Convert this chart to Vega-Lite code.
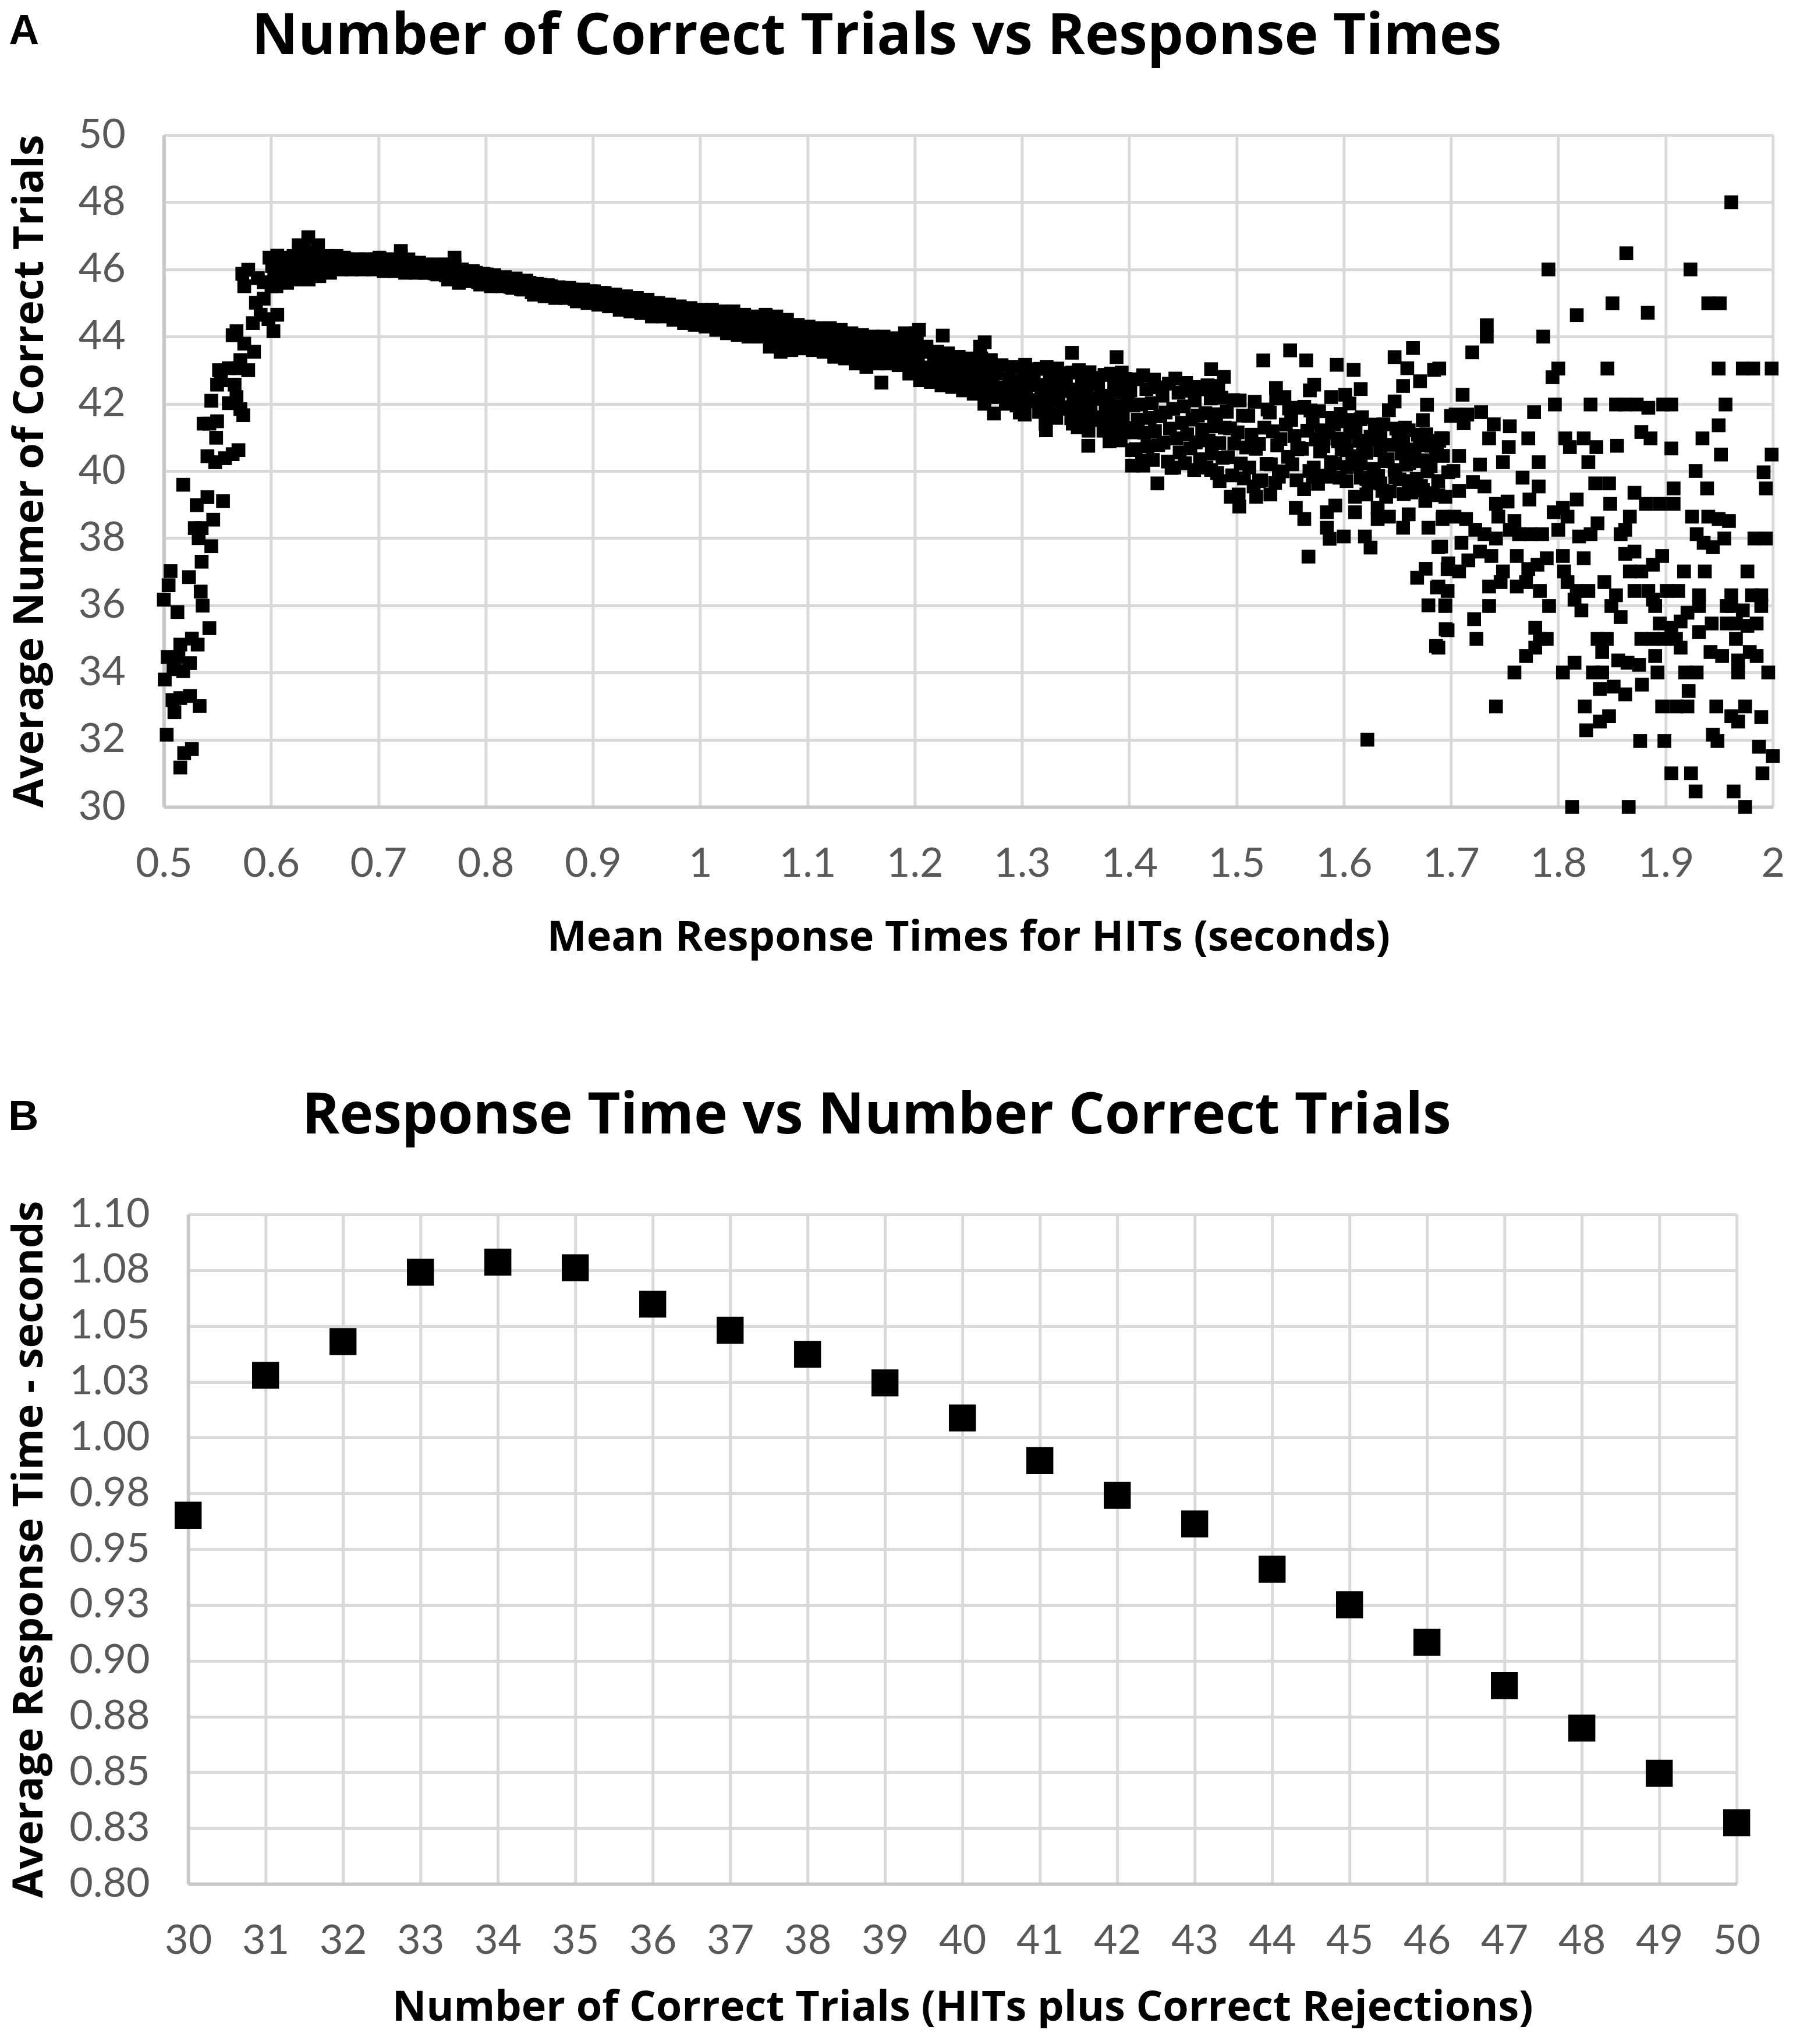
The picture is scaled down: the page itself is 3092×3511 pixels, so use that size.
{
  "$schema": "https://vega.github.io/schema/vega-lite/v6.json",
  "description": "Correct trials vs response times (A) and response time vs number correct (B)",
  "background": "white",
  "padding": {"left": 14, "top": 14, "right": 0, "bottom": 0},
  "spacing": 222,
  "center": true,
  "config": {
    "view": {"stroke": null},
    "axis": {
      "labelFont": "Lato",
      "labelFontSize": 70,
      "labelColor": "#595959",
      "labelFlush": false,
      "labelOverlap": false,
      "ticks": false,
      "gridColor": "#d9d9d9",
      "gridWidth": 5,
      "domainColor": "#c8c8c8",
      "domainWidth": 6,
      "titleFont": "Open Sans",
      "titleFontWeight": "bold",
      "titleColor": "black"
    }
  },
  "datasets": {
    "scatter": [
      {"rt":0.5181,"n":39.59},{"rt":0.5307,"n":38.98},{"rt":0.5407,"n":39.22},{"rt":0.5552,"n":39.1},{"rt":0.5461,"n":38.55},{"rt":0.5289,"n":38.3},{"rt":0.5353,"n":38.3},{"rt":0.5325,"n":38.0},{"rt":0.5443,"n":37.76},{"rt":0.5353,"n":37.3},{"rt":0.5063,"n":37.02},{"rt":0.5045,"n":36.6},{"rt":0.5235,"n":36.84},{"rt":0.5,"n":36.17},{"rt":0.5344,"n":36.41},{"rt":0.5362,"n":35.99},{"rt":0.5127,"n":35.8},{"rt":0.5425,"n":35.32},{"rt":0.5154,"n":34.83},{"rt":0.5262,"n":35.01},{"rt":0.5316,"n":34.83},{"rt":0.5036,"n":34.46},{"rt":0.5136,"n":34.46},{"rt":0.5244,"n":34.28},{"rt":0.5009,"n":33.79},{"rt":0.509,"n":34.1},{"rt":0.5181,"n":34.04},{"rt":0.5081,"n":33.18},{"rt":0.5154,"n":33.24},{"rt":0.5244,"n":33.3},{"rt":0.5334,"n":33.0},{"rt":0.5099,"n":32.82},{"rt":0.5027,"n":32.15},{"rt":0.5262,"n":31.72},{"rt":0.519,"n":31.6},{"rt":0.5154,"n":31.17},
      {"rt":0.5497,"n":41.48},{"rt":0.5425,"n":41.41},{"rt":0.5371,"n":41.41},{"rt":0.5488,"n":40.99},{"rt":0.5407,"n":40.44},{"rt":0.5479,"n":40.26},{"rt":0.557,"n":40.38},{"rt":0.5642,"n":40.5},{"rt":0.5696,"n":40.62},{"rt":0.5443,"n":42.09},{"rt":0.5497,"n":42.57},{"rt":0.5533,"n":42.7},{"rt":0.5606,"n":42.02},{"rt":0.5678,"n":42.2},{"rt":0.5714,"n":41.84},{"rt":0.5741,"n":41.66},{"rt":0.5515,"n":43.0},{"rt":0.5606,"n":43.06},{"rt":0.5696,"n":43.06},{"rt":0.5787,"n":43.0},{"rt":0.566,"n":42.57},{"rt":0.5642,"n":44.04},{"rt":0.5678,"n":44.16},{"rt":0.575,"n":43.79},{"rt":0.5841,"n":43.55},{"rt":0.5714,"n":43.3},{"rt":0.583,"n":44.4},{"rt":0.5903,"n":44.65},{"rt":0.5976,"n":44.52},{"rt":0.6022,"n":44.16},{"rt":0.6058,"n":44.65},{"rt":0.5859,"n":45.01},{"rt":0.5931,"n":45.13},{"rt":0.575,"n":45.5},{"rt":0.5732,"n":45.87},{"rt":0.5787,"n":45.99},{"rt":0.5877,"n":45.74},{"rt":0.5931,"n":45.62},{"rt":0.5985,"n":46.35},{"rt":0.6058,"n":46.41},{"rt":0.6148,"n":46.35},{"rt":0.6257,"n":46.72},{"rt":0.6347,"n":46.96},{"rt":0.6438,"n":46.72},{"rt":0.6004,"n":45.5},{"rt":0.6148,"n":45.62},{"rt":0.721,"n":46.55},{"rt":0.771,"n":46.35},
      {"rt":0.601,"n":46.1},{"rt":0.605,"n":45.5},{"rt":0.603,"n":45.7},{"rt":0.608,"n":45.95},
      {"rt":0.611,"n":46.3},{"rt":0.615,"n":45.6},{"rt":0.613,"n":45.85},{"rt":0.618,"n":46.1},
      {"rt":0.621,"n":46.4},{"rt":0.625,"n":45.7},{"rt":0.623,"n":45.95},{"rt":0.628,"n":46.2},
      {"rt":0.631,"n":46.6},{"rt":0.635,"n":45.7},{"rt":0.633,"n":46.05},{"rt":0.638,"n":46.3},
      {"rt":0.641,"n":46.5},{"rt":0.645,"n":45.8},{"rt":0.643,"n":46.05},{"rt":0.648,"n":46.3},
      {"rt":0.651,"n":46.4},{"rt":0.655,"n":45.9},{"rt":0.653,"n":46.05},{"rt":0.658,"n":46.3},
      {"rt":0.661,"n":46.4},{"rt":0.665,"n":46.0},{"rt":0.663,"n":46.1},{"rt":0.668,"n":46.35},
      {"rt":0.671,"n":46.3},{"rt":0.675,"n":46.0},{"rt":0.673,"n":46.05},{"rt":0.678,"n":46.3},
      {"rt":0.681,"n":46.3},{"rt":0.685,"n":46.0},{"rt":0.683,"n":46.05},{"rt":0.688,"n":46.3},
      {"rt":0.691,"n":46.3},{"rt":0.695,"n":46.0},{"rt":0.693,"n":46.05},{"rt":0.698,"n":46.3},
      {"rt":0.701,"n":46.35},{"rt":0.705,"n":45.95},{"rt":0.703,"n":46.05},{"rt":0.708,"n":46.3},
      {"rt":0.711,"n":46.3},{"rt":0.715,"n":45.95},{"rt":0.713,"n":46.0},{"rt":0.718,"n":46.27},
      {"rt":0.721,"n":46.4},{"rt":0.725,"n":45.9},{"rt":0.723,"n":46.05},{"rt":0.728,"n":46.3},
      {"rt":0.731,"n":46.2},{"rt":0.735,"n":45.9},{"rt":0.733,"n":45.95},{"rt":0.738,"n":46.2},
      {"rt":0.741,"n":46.1},{"rt":0.745,"n":45.9},{"rt":0.743,"n":45.9},{"rt":0.748,"n":46.15},
      {"rt":0.751,"n":46.1},{"rt":0.755,"n":45.85},{"rt":0.753,"n":45.88},{"rt":0.758,"n":46.13},
      {"rt":0.761,"n":46.15},{"rt":0.765,"n":45.7},{"rt":0.763,"n":45.82},{"rt":0.768,"n":46.07},
      {"rt":0.771,"n":46.1},{"rt":0.775,"n":45.6},{"rt":0.773,"n":45.75},{"rt":0.778,"n":46.0},
      {"rt":0.781,"n":45.95},{"rt":0.785,"n":45.65},{"rt":0.783,"n":45.7},{"rt":0.788,"n":45.95},
      {"rt":0.791,"n":45.9},{"rt":0.795,"n":45.55},{"rt":0.793,"n":45.62},{"rt":0.798,"n":45.87},
      {"rt":0.801,"n":45.85},{"rt":0.805,"n":45.5},{"rt":0.803,"n":45.58},{"rt":0.808,"n":45.83},
      {"rt":0.811,"n":45.75},{"rt":0.815,"n":45.5},{"rt":0.813,"n":45.52},{"rt":0.818,"n":45.77},
      {"rt":0.821,"n":45.7},{"rt":0.825,"n":45.45},{"rt":0.823,"n":45.48},{"rt":0.828,"n":45.73},
      {"rt":0.831,"n":45.65},{"rt":0.835,"n":45.4},{"rt":0.833,"n":45.42},{"rt":0.838,"n":45.67},
      {"rt":0.841,"n":45.6},{"rt":0.845,"n":45.25},{"rt":0.843,"n":45.32},{"rt":0.848,"n":45.57},
      {"rt":0.851,"n":45.55},{"rt":0.855,"n":45.2},{"rt":0.853,"n":45.28},{"rt":0.858,"n":45.53},
      {"rt":0.861,"n":45.5},{"rt":0.865,"n":45.15},{"rt":0.863,"n":45.22},{"rt":0.868,"n":45.47},
      {"rt":0.871,"n":45.45},{"rt":0.875,"n":45.15},{"rt":0.873,"n":45.2},{"rt":0.878,"n":45.45},
      {"rt":0.881,"n":45.4},{"rt":0.885,"n":45.05},{"rt":0.883,"n":45.12},{"rt":0.888,"n":45.37},
      {"rt":0.891,"n":45.4},{"rt":0.895,"n":45.0},{"rt":0.893,"n":45.1},{"rt":0.898,"n":45.35},
      {"rt":0.901,"n":45.35},{"rt":0.905,"n":44.95},{"rt":0.903,"n":45.05},{"rt":0.908,"n":45.3},
      {"rt":0.911,"n":45.3},{"rt":0.915,"n":44.9},{"rt":0.913,"n":45.0},{"rt":0.918,"n":45.25},
      {"rt":0.921,"n":45.25},{"rt":0.925,"n":44.8},{"rt":0.923,"n":44.92},{"rt":0.928,"n":45.17},
      {"rt":0.931,"n":45.2},{"rt":0.935,"n":44.75},{"rt":0.933,"n":44.88},{"rt":0.938,"n":45.13},
      {"rt":0.941,"n":45.15},{"rt":0.945,"n":44.7},{"rt":0.943,"n":44.82},{"rt":0.948,"n":45.07},
      {"rt":0.951,"n":45.1},{"rt":0.955,"n":44.6},{"rt":0.953,"n":44.75},{"rt":0.958,"n":45.0},
      {"rt":0.961,"n":45.0},{"rt":0.965,"n":44.6},{"rt":0.963,"n":44.7},{"rt":0.968,"n":44.95},
      {"rt":0.971,"n":44.95},{"rt":0.975,"n":44.5},{"rt":0.973,"n":44.62},{"rt":0.978,"n":44.87},
      {"rt":0.981,"n":44.9},{"rt":0.985,"n":44.4},{"rt":0.983,"n":44.55},{"rt":0.988,"n":44.8},
      {"rt":0.991,"n":44.85},{"rt":0.995,"n":44.35},{"rt":0.993,"n":44.5},{"rt":0.998,"n":44.75},
      {"rt":1.001,"n":44.8},{"rt":1.005,"n":44.3},{"rt":1.003,"n":44.45},{"rt":1.008,"n":44.7},
      {"rt":1.011,"n":44.8},{"rt":1.015,"n":44.2},{"rt":1.013,"n":44.4},{"rt":1.018,"n":44.65},
      {"rt":1.021,"n":44.75},{"rt":1.025,"n":44.1},{"rt":1.023,"n":44.32},{"rt":1.028,"n":44.57},
      {"rt":1.031,"n":44.75},{"rt":1.035,"n":44.05},{"rt":1.033,"n":44.3},{"rt":1.038,"n":44.55},
      {"rt":1.041,"n":44.65},{"rt":1.045,"n":44.0},{"rt":1.043,"n":44.22},{"rt":1.048,"n":44.47},
      {"rt":1.051,"n":44.6},{"rt":1.055,"n":44.0},{"rt":1.053,"n":44.2},{"rt":1.058,"n":44.45},
      {"rt":1.061,"n":44.65},{"rt":1.065,"n":43.7},{"rt":1.063,"n":44.08},{"rt":1.068,"n":44.33},{"rt":1.066,"n":43.95},
      {"rt":1.071,"n":44.6},{"rt":1.075,"n":43.55},{"rt":1.073,"n":43.98},{"rt":1.078,"n":44.23},{"rt":1.076,"n":43.8},
      {"rt":1.081,"n":44.5},{"rt":1.085,"n":43.6},{"rt":1.083,"n":43.95},{"rt":1.088,"n":44.2},{"rt":1.086,"n":43.8},
      {"rt":1.091,"n":44.35},{"rt":1.095,"n":43.65},{"rt":1.093,"n":43.9},{"rt":1.098,"n":44.15},
      {"rt":1.101,"n":44.3},{"rt":1.105,"n":43.6},{"rt":1.103,"n":43.85},{"rt":1.108,"n":44.1},
      {"rt":1.111,"n":44.25},{"rt":1.115,"n":43.55},{"rt":1.113,"n":43.8},{"rt":1.118,"n":44.05},
      {"rt":1.121,"n":44.25},{"rt":1.125,"n":43.4},{"rt":1.123,"n":43.72},{"rt":1.128,"n":43.97},{"rt":1.126,"n":43.6},
      {"rt":1.131,"n":44.2},{"rt":1.135,"n":43.35},{"rt":1.133,"n":43.68},{"rt":1.138,"n":43.93},{"rt":1.136,"n":43.55},
      {"rt":1.141,"n":44.1},{"rt":1.145,"n":43.2},{"rt":1.143,"n":43.55},{"rt":1.148,"n":43.8},{"rt":1.146,"n":43.4},
      {"rt":1.151,"n":44.05},{"rt":1.155,"n":43.1},{"rt":1.153,"n":43.48},{"rt":1.158,"n":43.73},{"rt":1.156,"n":43.3},
      {"rt":1.161,"n":44.0},{"rt":1.165,"n":43.2},{"rt":1.163,"n":43.5},{"rt":1.168,"n":43.75},{"rt":1.166,"n":43.35},
      {"rt":1.171,"n":44.0},{"rt":1.175,"n":43.2},{"rt":1.173,"n":43.5},{"rt":1.178,"n":43.75},{"rt":1.176,"n":43.35},
      {"rt":1.181,"n":43.95},{"rt":1.185,"n":43.15},{"rt":1.183,"n":43.45},{"rt":1.188,"n":43.7},{"rt":1.186,"n":43.3},
      {"rt":1.191,"n":44.1},{"rt":1.195,"n":42.9},{"rt":1.193,"n":43.4},{"rt":1.198,"n":43.65},{"rt":1.196,"n":43.15},{"rt":1.192,"n":43.85},
      {"rt":1.201,"n":44.1},{"rt":1.205,"n":42.7},{"rt":1.203,"n":43.3},{"rt":1.208,"n":43.55},{"rt":1.206,"n":42.95},{"rt":1.202,"n":43.8},
      {"rt":1.211,"n":43.7},{"rt":1.215,"n":42.65},{"rt":1.213,"n":43.08},{"rt":1.218,"n":43.33},{"rt":1.216,"n":42.85},
      {"rt":1.221,"n":43.55},{"rt":1.225,"n":42.55},{"rt":1.223,"n":42.95},{"rt":1.228,"n":43.2},{"rt":1.226,"n":42.75},
      {"rt":1.231,"n":43.5},{"rt":1.235,"n":42.5},{"rt":1.233,"n":42.9},{"rt":1.238,"n":43.15},{"rt":1.236,"n":42.7},
      {"rt":1.241,"n":43.4},{"rt":1.245,"n":42.4},{"rt":1.243,"n":42.8},{"rt":1.248,"n":43.05},{"rt":1.246,"n":42.6},
      {"rt":1.251,"n":43.35},{"rt":1.255,"n":42.3},{"rt":1.253,"n":42.72},{"rt":1.258,"n":42.97},{"rt":1.256,"n":42.5},
      {"rt":1.261,"n":43.7},{"rt":1.265,"n":42.0},{"rt":1.263,"n":42.75},{"rt":1.268,"n":43.0},{"rt":1.266,"n":42.35},{"rt":1.262,"n":43.35},
      {"rt":1.271,"n":43.3},{"rt":1.275,"n":42.2},{"rt":1.273,"n":42.65},{"rt":1.278,"n":42.9},{"rt":1.276,"n":42.4},
      {"rt":1.281,"n":43.15},{"rt":1.285,"n":42.0},{"rt":1.283,"n":42.48},{"rt":1.288,"n":42.73},{"rt":1.286,"n":42.25},
      {"rt":1.291,"n":43.1},{"rt":1.295,"n":41.95},{"rt":1.293,"n":42.42},{"rt":1.298,"n":42.67},{"rt":1.296,"n":42.2},
      {"rt":1.302,"n":41.87},{"rt":1.307,"n":42.11},{"rt":1.304,"n":42.33},{"rt":1.309,"n":42.57},{"rt":1.301,"n":42.78},{"rt":1.306,"n":43.03},{"rt":1.303,"n":43.16},
      {"rt":1.316,"n":41.76},{"rt":1.312,"n":42.07},{"rt":1.318,"n":42.3},{"rt":1.314,"n":42.56},{"rt":1.311,"n":42.84},{"rt":1.317,"n":43.04},
      {"rt":1.322,"n":41.4},{"rt":1.327,"n":41.69},{"rt":1.324,"n":41.96},{"rt":1.329,"n":42.25},{"rt":1.321,"n":42.52},{"rt":1.326,"n":42.83},{"rt":1.323,"n":43.1},
      {"rt":1.332,"n":41.58},{"rt":1.337,"n":41.85},{"rt":1.334,"n":42.11},{"rt":1.339,"n":42.38},{"rt":1.331,"n":42.62},{"rt":1.336,"n":42.91},{"rt":1.333,"n":43.05},
      {"rt":1.346,"n":41.57},{"rt":1.342,"n":41.9},{"rt":1.348,"n":42.14},{"rt":1.344,"n":42.42},{"rt":1.341,"n":42.72},{"rt":1.347,"n":42.93},
      {"rt":1.352,"n":41.3},{"rt":1.357,"n":41.59},{"rt":1.354,"n":41.86},{"rt":1.359,"n":42.15},{"rt":1.351,"n":42.42},{"rt":1.356,"n":42.73},{"rt":1.353,"n":43.0},
      {"rt":1.362,"n":41.2},{"rt":1.367,"n":41.52},{"rt":1.364,"n":41.82},{"rt":1.369,"n":42.15},{"rt":1.361,"n":42.43},{"rt":1.366,"n":42.77},{"rt":1.363,"n":42.94},
      {"rt":1.376,"n":41.2},{"rt":1.372,"n":41.6},{"rt":1.378,"n":41.9},{"rt":1.374,"n":42.24},{"rt":1.371,"n":42.6},{"rt":1.377,"n":42.86},
      {"rt":1.382,"n":40.95},{"rt":1.387,"n":41.28},{"rt":1.384,"n":41.59},{"rt":1.389,"n":41.93},{"rt":1.381,"n":42.24},{"rt":1.386,"n":42.59},{"rt":1.383,"n":42.9},
      {"rt":1.392,"n":40.91},{"rt":1.397,"n":41.28},{"rt":1.394,"n":41.64},{"rt":1.399,"n":42.01},{"rt":1.391,"n":42.34},{"rt":1.396,"n":42.74},{"rt":1.393,"n":42.93},
      {"rt":1.406,"n":40.65},{"rt":1.402,"n":41.15},{"rt":1.408,"n":41.53},{"rt":1.404,"n":41.95},{"rt":1.401,"n":42.4},{"rt":1.407,"n":42.73},
      {"rt":1.412,"n":40.3},{"rt":1.417,"n":40.73},{"rt":1.414,"n":41.14},{"rt":1.419,"n":41.58},{"rt":1.411,"n":41.98},{"rt":1.416,"n":42.44},{"rt":1.413,"n":42.85},
      {"rt":1.422,"n":40.33},{"rt":1.427,"n":40.77},{"rt":1.424,"n":41.19},{"rt":1.429,"n":41.63},{"rt":1.421,"n":42.02},{"rt":1.426,"n":42.49},{"rt":1.423,"n":42.72},
      {"rt":1.436,"n":40.28},{"rt":1.432,"n":40.84},{"rt":1.438,"n":41.26},{"rt":1.434,"n":41.74},{"rt":1.431,"n":42.24},{"rt":1.437,"n":42.6},
      {"rt":1.442,"n":40.1},{"rt":1.447,"n":40.55},{"rt":1.444,"n":40.97},{"rt":1.449,"n":41.43},{"rt":1.441,"n":41.85},{"rt":1.446,"n":42.33},{"rt":1.443,"n":42.75},
      {"rt":1.452,"n":40.23},{"rt":1.457,"n":40.67},{"rt":1.454,"n":41.09},{"rt":1.459,"n":41.53},{"rt":1.451,"n":41.92},{"rt":1.456,"n":42.39},{"rt":1.453,"n":42.62},
      {"rt":1.466,"n":40.35},{"rt":1.462,"n":40.85},{"rt":1.468,"n":41.23},{"rt":1.464,"n":41.65},{"rt":1.461,"n":42.1},{"rt":1.467,"n":42.43},
      {"rt":1.472,"n":40.1},{"rt":1.477,"n":40.52},{"rt":1.474,"n":40.91},{"rt":1.479,"n":41.33},{"rt":1.471,"n":41.72},{"rt":1.476,"n":42.16},{"rt":1.473,"n":42.55},
      {"rt":1.482,"n":39.94},{"rt":1.487,"n":40.39},{"rt":1.484,"n":40.83},{"rt":1.489,"n":41.29},{"rt":1.481,"n":41.69},{"rt":1.486,"n":42.18},{"rt":1.483,"n":42.42},
      {"rt":1.496,"n":39.87},{"rt":1.492,"n":40.41},{"rt":1.498,"n":40.82},{"rt":1.494,"n":41.27},{"rt":1.491,"n":41.76},{"rt":1.497,"n":42.11},
      {"rt":1.502,"n":39.3},{"rt":1.507,"n":39.78},{"rt":1.504,"n":40.22},{"rt":1.509,"n":40.7},{"rt":1.501,"n":41.15},{"rt":1.506,"n":41.65},{"rt":1.503,"n":42.1},
      {"rt":1.516,"n":39.54},{"rt":1.512,"n":40.1},{"rt":1.518,"n":40.66},{"rt":1.514,"n":41.08},{"rt":1.511,"n":41.64},{"rt":1.517,"n":42.06},
      {"rt":1.523,"n":39.72},{"rt":1.528,"n":40.21},{"rt":1.521,"n":40.8},{"rt":1.526,"n":41.29},{"rt":1.529,"n":41.83},
      {"rt":1.536,"n":39.64},{"rt":1.532,"n":40.2},{"rt":1.538,"n":40.76},{"rt":1.534,"n":41.18},{"rt":1.531,"n":41.74},{"rt":1.537,"n":42.16},
      {"rt":1.543,"n":39.99},{"rt":1.548,"n":40.42},{"rt":1.541,"n":40.95},{"rt":1.546,"n":41.38},{"rt":1.549,"n":41.86},
      {"rt":1.556,"n":39.72},{"rt":1.552,"n":40.2},{"rt":1.558,"n":40.68},{"rt":1.554,"n":41.04},{"rt":1.551,"n":41.52},{"rt":1.557,"n":41.88},
      {"rt":1.563,"n":39.46},{"rt":1.568,"n":40.0},{"rt":1.561,"n":40.66},{"rt":1.566,"n":41.2},{"rt":1.569,"n":41.8},
      {"rt":1.576,"n":39.62},{"rt":1.572,"n":40.1},{"rt":1.578,"n":40.58},{"rt":1.574,"n":40.94},{"rt":1.571,"n":41.42},{"rt":1.577,"n":41.78},
      {"rt":1.583,"n":39.86},{"rt":1.588,"n":40.26},{"rt":1.581,"n":40.74},{"rt":1.586,"n":41.14},{"rt":1.589,"n":41.58},
      {"rt":1.596,"n":39.8},{"rt":1.592,"n":40.22},{"rt":1.598,"n":40.64},{"rt":1.594,"n":40.96},{"rt":1.591,"n":41.38},{"rt":1.597,"n":41.7},
      {"rt":1.603,"n":40.12},{"rt":1.608,"n":40.44},{"rt":1.601,"n":40.84},{"rt":1.606,"n":41.16},{"rt":1.609,"n":41.52},
      {"rt":1.616,"n":39.8},{"rt":1.612,"n":40.2},{"rt":1.618,"n":40.6},{"rt":1.614,"n":40.9},{"rt":1.611,"n":41.3},{"rt":1.617,"n":41.6},
      {"rt":1.623,"n":39.66},{"rt":1.628,"n":40.06},{"rt":1.621,"n":40.54},{"rt":1.626,"n":40.94},{"rt":1.629,"n":41.38},
      {"rt":1.636,"n":39.41},{"rt":1.632,"n":39.85},{"rt":1.638,"n":40.29},{"rt":1.634,"n":40.62},{"rt":1.631,"n":41.06},{"rt":1.637,"n":41.39},
      {"rt":1.643,"n":39.39},{"rt":1.648,"n":39.82},{"rt":1.641,"n":40.35},{"rt":1.646,"n":40.78},{"rt":1.649,"n":41.26},
      {"rt":1.656,"n":39.31},{"rt":1.652,"n":39.75},{"rt":1.658,"n":40.19},{"rt":1.654,"n":40.52},{"rt":1.651,"n":40.96},{"rt":1.657,"n":41.29},
      {"rt":1.663,"n":39.36},{"rt":1.668,"n":39.76},{"rt":1.661,"n":40.24},{"rt":1.666,"n":40.64},{"rt":1.669,"n":41.08},
      {"rt":1.676,"n":39.11},{"rt":1.672,"n":39.55},{"rt":1.678,"n":39.99},{"rt":1.674,"n":40.32},{"rt":1.671,"n":40.76},{"rt":1.677,"n":41.09},
      {"rt":1.683,"n":39.34},{"rt":1.688,"n":39.7},{"rt":1.681,"n":40.14},{"rt":1.686,"n":40.5},{"rt":1.689,"n":40.9},
      {"rt":1.169,"n":42.63},{"rt":1.2262,"n":44.03},{"rt":1.2653,"n":43.83},{"rt":1.2738,"n":41.71},{"rt":1.298,"n":41.74},{"rt":1.204,"n":44.2},
      {"rt":1.3466,"n":43.52},{"rt":1.3882,"n":43.39},{"rt":1.4763,"n":43.03},{"rt":1.525,"n":43.29},{"rt":1.55,"n":43.59},{"rt":1.565,"n":43.29},{"rt":1.5934,"n":43.16},{"rt":1.6092,"n":43.01},{"rt":1.6474,"n":43.39},{"rt":1.6645,"n":43.66},{"rt":1.6592,"n":43.06},{"rt":1.6842,"n":43.01},{"rt":1.6711,"n":42.67},{"rt":1.6553,"n":42.53},{"rt":1.5724,"n":42.57},{"rt":1.5684,"n":42.4},{"rt":1.5882,"n":42.2},{"rt":1.6013,"n":42.27},{"rt":1.6158,"n":42.44},{"rt":1.6776,"n":41.97},{"rt":1.6474,"n":42.07},{"rt":1.6421,"n":41.81},{"rt":1.6053,"n":42.01},{"rt":1.5632,"n":41.91},{"rt":1.5368,"n":42.47},{"rt":1.5447,"n":42.2},{"rt":1.4882,"n":42.8},{"rt":1.4789,"n":42.53},{"rt":1.4605,"n":42.5},
      {"rt":1.6158,"n":41.54},{"rt":1.5974,"n":41.48},{"rt":1.6737,"n":41.51},{"rt":1.7,"n":41.64},{"rt":1.6908,"n":40.98},{"rt":1.6816,"n":40.75},{"rt":1.6868,"n":40.49},{"rt":1.625,"n":41.02},{"rt":1.6342,"n":41.02},{"rt":1.6605,"n":41.21},{"rt":1.6553,"n":40.88},{"rt":1.5789,"n":41.21},{"rt":1.5566,"n":40.65},{"rt":1.5947,"n":40.88},{"rt":1.6026,"n":40.62},{"rt":1.6158,"n":40.22},{"rt":1.6711,"n":40.29},{"rt":1.6474,"n":40.03},{"rt":1.6974,"n":39.96},{"rt":1.5711,"n":39.83},{"rt":1.5868,"n":39.83},{"rt":1.6026,"n":39.7},{"rt":1.6211,"n":39.76},{"rt":1.6342,"n":39.63},{"rt":1.6605,"n":39.7},{"rt":1.6737,"n":39.43},{"rt":1.6816,"n":39.3},{"rt":1.6947,"n":39.23},{"rt":1.6105,"n":39.23},{"rt":1.6211,"n":39.3},{"rt":1.6395,"n":39.23},{"rt":1.6316,"n":38.9},{"rt":1.5921,"n":38.97},{"rt":1.5842,"n":38.77},{"rt":1.6105,"n":38.77},{"rt":1.6316,"n":38.57},{"rt":1.6421,"n":38.64},{"rt":1.6605,"n":38.71},{"rt":1.5553,"n":38.9},{"rt":1.5632,"n":38.57},{"rt":1.5842,"n":38.31},{"rt":1.5868,"n":37.98},{"rt":1.6,"n":38.05},{"rt":1.6197,"n":38.05},{"rt":1.625,"n":37.72},{"rt":1.6553,"n":38.31},{"rt":1.6789,"n":38.31},{"rt":1.6921,"n":38.57},{"rt":1.6908,"n":37.75},{"rt":1.5671,"n":37.45},{"rt":1.6763,"n":37.09},{"rt":1.6974,"n":37.25},{"rt":1.6684,"n":36.82},{"rt":1.6868,"n":36.53},{"rt":1.6789,"n":36.0},{"rt":1.6947,"n":36.0},{"rt":1.695,"n":35.29},{"rt":1.686,"n":34.79},{"rt":1.622,"n":32.0},
      {"rt":1.3026,"n":41.68},{"rt":1.3224,"n":41.21},{"rt":1.3474,"n":41.41},{"rt":1.3618,"n":40.75},{"rt":1.3816,"n":40.88},{"rt":1.4026,"n":40.62},{"rt":1.4026,"n":40.16},{"rt":1.4132,"n":40.16},{"rt":1.4263,"n":39.63},{"rt":1.4395,"n":40.09},{"rt":1.4605,"n":40.03},{"rt":1.4763,"n":40.03},{"rt":1.4842,"n":39.7},{"rt":1.4947,"n":39.23},{"rt":1.5026,"n":38.94},{"rt":1.5184,"n":39.23},{"rt":1.5316,"n":39.3},{"rt":1.5211,"n":39.7},{"rt":1.5395,"n":39.83},
      {"rt":1.9613,"n":48.0},{"rt":1.8634,"n":46.48},{"rt":1.7908,"n":46.0},{"rt":1.9232,"n":46.0},{"rt":1.8505,"n":44.99},{"rt":1.8172,"n":44.64},{"rt":1.8834,"n":44.71},{"rt":1.9398,"n":44.99},{"rt":1.9505,"n":44.99},{"rt":1.7333,"n":44.34},{"rt":1.7333,"n":44.0},{"rt":1.7198,"n":43.53},{"rt":1.786,"n":44.0},{"rt":1.689,"n":43.05},{"rt":1.8,"n":43.05},{"rt":1.7946,"n":42.79},{"rt":1.8458,"n":43.05},{"rt":1.9495,"n":43.05},{"rt":1.972,"n":43.05},{"rt":1.9817,"n":43.05},{"rt":1.9989,"n":43.05},
      {"rt":1.7108,"n":42.27},{"rt":1.7043,"n":41.68},{"rt":1.7151,"n":41.68},{"rt":1.7118,"n":41.42},{"rt":1.728,"n":41.75},{"rt":1.7398,"n":41.39},{"rt":1.7548,"n":41.33},{"rt":1.7774,"n":41.75},{"rt":1.7968,"n":41.98},{"rt":1.8301,"n":41.98},{"rt":1.8538,"n":41.98},{"rt":1.8624,"n":41.98},{"rt":1.8731,"n":41.98},{"rt":1.8839,"n":41.88},{"rt":1.8978,"n":41.98},{"rt":1.9054,"n":41.98},{"rt":1.9559,"n":41.98},{"rt":1.9495,"n":41.36},
      {"rt":1.6925,"n":40.97},{"rt":1.7355,"n":40.97},{"rt":1.7538,"n":40.71},{"rt":1.772,"n":40.97},{"rt":1.8065,"n":40.97},{"rt":1.8108,"n":40.71},{"rt":1.8237,"n":40.97},{"rt":1.8355,"n":40.71},{"rt":1.8548,"n":40.75},{"rt":1.8774,"n":41.16},{"rt":1.886,"n":40.97},{"rt":1.9054,"n":40.67},{"rt":1.9344,"n":40.97},{"rt":1.9516,"n":40.49},{"rt":1.9989,"n":40.49},
      {"rt":1.6925,"n":40.45},{"rt":1.7075,"n":40.45},{"rt":1.7022,"n":40.0},{"rt":1.7269,"n":40.19},{"rt":1.7484,"n":40.26},{"rt":1.7817,"n":40.26},{"rt":1.828,"n":40.26},{"rt":1.928,"n":40.0},{"rt":1.9914,"n":39.96},
      {"rt":1.6882,"n":39.28},{"rt":1.7075,"n":39.41},{"rt":1.7204,"n":39.67},{"rt":1.7312,"n":39.54},{"rt":1.7667,"n":39.8},{"rt":1.7817,"n":39.54},{"rt":1.8344,"n":39.63},{"rt":1.8473,"n":39.63},{"rt":1.9075,"n":39.48},{"rt":1.9387,"n":39.48},{"rt":1.9935,"n":39.48},
      {"rt":1.7419,"n":39.02},{"rt":1.7527,"n":39.09},{"rt":1.7731,"n":39.15},{"rt":1.8172,"n":39.15},{"rt":1.8043,"n":38.9},{"rt":1.8484,"n":39.02},{"rt":1.871,"n":39.35},{"rt":1.8817,"n":39.02},{"rt":1.8946,"n":39.02},{"rt":1.9075,"n":39.02},
      {"rt":1.6925,"n":38.64},{"rt":1.7032,"n":38.64},{"rt":1.714,"n":38.57},{"rt":1.7441,"n":38.64},{"rt":1.7591,"n":38.51},{"rt":1.7957,"n":38.77},{"rt":1.8086,"n":38.64},{"rt":1.8667,"n":38.64},{"rt":1.9247,"n":38.64},{"rt":1.9398,"n":38.64},{"rt":1.9495,"n":38.57},{"rt":1.9591,"n":38.51},
      {"rt":1.6882,"n":37.73},{"rt":1.7097,"n":37.86},{"rt":1.7226,"n":38.25},{"rt":1.7312,"n":38.12},{"rt":1.7419,"n":37.99},{"rt":1.7548,"n":38.25},{"rt":1.7634,"n":38.12},{"rt":1.7742,"n":38.12},{"rt":1.7849,"n":38.12},{"rt":1.8,"n":38.25},{"rt":1.8194,"n":38.05},{"rt":1.8301,"n":38.12},{"rt":1.8366,"n":38.44},{"rt":1.8581,"n":38.12},{"rt":1.8624,"n":38.25},{"rt":1.929,"n":38.12},{"rt":1.9355,"n":37.86},{"rt":1.9441,"n":37.73},{"rt":1.9548,"n":37.99},{"rt":1.9828,"n":37.99},{"rt":1.9935,"n":37.99},
      {"rt":1.6968,"n":37.08},{"rt":1.7075,"n":37.01},{"rt":1.7161,"n":37.34},{"rt":1.7269,"n":37.6},{"rt":1.7376,"n":37.47},{"rt":1.7484,"n":37.01},{"rt":1.7613,"n":37.47},{"rt":1.772,"n":37.08},{"rt":1.7806,"n":37.21},{"rt":1.7892,"n":37.4},{"rt":1.8043,"n":37.47},{"rt":1.8054,"n":37.01},{"rt":1.8237,"n":37.4},{"rt":1.8624,"n":37.53},{"rt":1.871,"n":37.6},{"rt":1.8667,"n":37.01},{"rt":1.8774,"n":37.01},{"rt":1.8882,"n":37.21},{"rt":1.8968,"n":37.47},{"rt":1.9172,"n":37.01},{"rt":1.9366,"n":37.01},{"rt":1.9763,"n":37.01},
      {"rt":1.6882,"n":36.56},{"rt":1.6968,"n":36.43},{"rt":1.7355,"n":36.56},{"rt":1.7462,"n":36.69},{"rt":1.7613,"n":36.56},{"rt":1.7699,"n":36.69},{"rt":1.7828,"n":36.43},{"rt":1.8086,"n":36.69},{"rt":1.8172,"n":36.43},{"rt":1.828,"n":36.43},{"rt":1.843,"n":36.69},{"rt":1.8538,"n":36.3},{"rt":1.871,"n":36.43},{"rt":1.8839,"n":36.43},{"rt":1.8882,"n":36.17},{"rt":1.9011,"n":36.43},{"rt":1.9118,"n":36.43},{"rt":1.9312,"n":36.3},{"rt":1.9613,"n":36.3},{"rt":1.9613,"n":35.98},{"rt":1.9806,"n":36.3},{"rt":1.9892,"n":36.3},{"rt":1.9892,"n":35.98},
      {"rt":1.6946,"n":35.98},{"rt":1.7355,"n":35.98},{"rt":1.7914,"n":35.98},{"rt":1.8151,"n":36.17},{"rt":1.8215,"n":35.85},{"rt":1.8495,"n":35.98},{"rt":1.8581,"n":35.65},{"rt":1.8903,"n":35.98},{"rt":1.9312,"n":35.98},{"rt":1.957,"n":35.98},{"rt":1.972,"n":35.85},
      {"rt":1.7215,"n":35.59},{"rt":1.6968,"n":35.26},{"rt":1.6882,"n":34.74},{"rt":1.7237,"n":35.0},{"rt":1.7785,"n":35.33},{"rt":1.7828,"n":35.0},{"rt":1.7892,"n":35.0},{"rt":1.7785,"n":34.74},{"rt":1.7699,"n":34.49},{"rt":1.8946,"n":35.46},{"rt":1.9054,"n":35.33},{"rt":1.914,"n":35.52},{"rt":1.9204,"n":35.78},{"rt":1.9312,"n":35.2},{"rt":1.943,"n":35.46},{"rt":1.957,"n":35.46},{"rt":1.9656,"n":35.46},{"rt":1.9763,"n":35.39},{"rt":1.9849,"n":35.46},
      {"rt":1.8366,"n":35.0},{"rt":1.8452,"n":35.0},{"rt":1.8409,"n":34.61},{"rt":1.8774,"n":35.0},{"rt":1.8882,"n":35.0},{"rt":1.8989,"n":35.0},{"rt":1.9097,"n":35.0},{"rt":1.914,"n":34.74},{"rt":1.9656,"n":35.0},{"rt":1.9419,"n":34.61},{"rt":1.9527,"n":34.49},{"rt":1.9677,"n":34.36},{"rt":1.9785,"n":34.61},{"rt":1.9849,"n":34.49},{"rt":1.8903,"n":34.49},{"rt":1.8151,"n":34.29},{"rt":1.8559,"n":34.36},{"rt":1.8645,"n":34.29},{"rt":1.8753,"n":34.23},
      {"rt":1.7591,"n":34.0},{"rt":1.8043,"n":34.0},{"rt":1.8323,"n":34.0},{"rt":1.8409,"n":34.0},{"rt":1.8925,"n":34.0},{"rt":1.9183,"n":34.0},{"rt":1.929,"n":34.0},{"rt":1.9677,"n":34.0},{"rt":1.9957,"n":34.0},
      {"rt":1.8387,"n":33.51},{"rt":1.8516,"n":33.58},{"rt":1.8624,"n":33.35},{"rt":1.878,"n":33.64},{"rt":1.9215,"n":33.45},{"rt":1.7419,"n":32.99},{"rt":1.8247,"n":32.99},{"rt":1.8387,"n":32.54},{"rt":1.8473,"n":32.7},{"rt":1.826,"n":32.28},{"rt":1.8968,"n":32.99},{"rt":1.9097,"n":32.99},{"rt":1.9204,"n":32.99},{"rt":1.9473,"n":32.99},{"rt":1.9613,"n":32.7},{"rt":1.9677,"n":32.54},{"rt":1.9742,"n":32.99},{"rt":1.9892,"n":32.67},
      {"rt":1.9441,"n":32.15},{"rt":1.9484,"n":31.96},{"rt":1.8763,"n":31.96},{"rt":1.8989,"n":31.96},{"rt":1.9871,"n":31.79},{"rt":2.0,"n":31.51},{"rt":1.9054,"n":31.0},{"rt":1.9237,"n":31.0},{"rt":1.9903,"n":31.0},{"rt":1.928,"n":30.46},{"rt":1.9634,"n":30.46},{"rt":1.8129,"n":30.0},{"rt":1.8656,"n":30.0},{"rt":1.9742,"n":30.0}
    ],
    "byCount": [
      {"correct":30,"time":0.9652},{"correct":31,"time":1.0279},{"correct":32,"time":1.043},{"correct":33,"time":1.0741},{"correct":34,"time":1.0786},{"correct":35,"time":1.0761},{"correct":36,"time":1.0598},{"correct":37,"time":1.0481},{"correct":38,"time":1.0373},{"correct":39,"time":1.0245},{"correct":40,"time":1.0088},{"correct":41,"time":0.9897},{"correct":42,"time":0.9741},{"correct":43,"time":0.9613},{"correct":44,"time":0.941},{"correct":45,"time":0.9251},{"correct":46,"time":0.9083},{"correct":47,"time":0.8889},{"correct":48,"time":0.8698},{"correct":49,"time":0.8496},{"correct":50,"time":0.8274}
    ]
  },
  "vconcat": [
    {
      "width": 2764,
      "height": 1154,
      "data": {"name": "scatter"},
      "title": {"text": "A", "anchor": "start", "frame": "bounds", "font": "Liberation Sans", "fontSize": 72, "fontWeight": "bold", "color": "black", "baseline": "top", "offset": -77},
      "layer": [
        {
          "mark": {"type": "square", "size": 560, "color": "black", "opacity": 1},
          "encoding": {
            "x": {"field": "rt", "type": "quantitative",
              "scale": {"domain": [0.5, 2], "nice": false, "zero": false},
              "axis": {"orient": "bottom", "values": [0.5,0.6,0.7,0.8,0.9,1,1.1,1.2,1.3,1.4,1.5,1.6,1.7,1.8,1.9,2], "format": "~g",
                "labelPadding": 64, "title": "Mean Response Times for HITs  (seconds)", "titleFontSize": 72, "titlePadding": 56}},
            "y": {"field": "n", "type": "quantitative",
              "scale": {"domain": [30, 50], "nice": false, "zero": false},
              "axis": {"values": [30,32,34,36,38,40,42,44,46,48,50], "labelPadding": 66,
                "title": "Average Numer of Correct Trials", "titleFontSize": 72, "titlePadding": 46}}
          }
        },
        {
          "mark": {"type": "square", "size": 560, "opacity": 0},
          "encoding": {
            "x": {"field": "rt", "type": "quantitative",
              "axis": {"orient": "top", "labels": false, "domain": false, "grid": false,
                "title": "Number of Correct Trials vs Response Times", "titleFontSize": 98,
                "titleX": 1224, "titleY": -169, "titleAlign": "center", "titleBaseline": "middle"}}
          }
        }
      ]
    },
    {
      "width": 2660,
      "height": 1150,
      "data": {"name": "byCount"},
      "title": {"text": "B", "anchor": "start", "frame": "bounds", "font": "Liberation Sans", "fontSize": 72, "fontWeight": "bold", "color": "black", "baseline": "top", "offset": -88},
      "layer": [
        {
          "mark": {"type": "square", "size": 2150, "color": "black", "opacity": 1},
          "encoding": {
            "x": {"field": "correct", "type": "quantitative",
              "scale": {"domain": [30, 50], "nice": false, "zero": false},
              "axis": {"orient": "bottom", "values": [30,31,32,33,34,35,36,37,38,39,40,41,42,43,44,45,46,47,48,49,50],
                "labelPadding": 64, "title": "Number of Correct Trials  (HITs plus Correct Rejections)", "titleFontSize": 72, "titlePadding": 44}},
            "y": {"field": "time", "type": "quantitative",
              "scale": {"domain": [0.8, 1.1], "nice": false, "zero": false},
              "axis": {"values": [0.8,0.825,0.85,0.875,0.9,0.925,0.95,0.975,1.0,1.025,1.05,1.075,1.1],
                "labelExpr": "format(datum.value + 0.000001, '.2f')", "labelPadding": 66,
                "title": "Average Response Time - seconds", "titleFontSize": 72, "titlePadding": 36}}
          }
        },
        {
          "mark": {"type": "square", "size": 2150, "opacity": 0},
          "encoding": {
            "x": {"field": "correct", "type": "quantitative",
              "axis": {"orient": "top", "labels": false, "domain": false, "grid": false,
                "title": "Response Time vs Number Correct Trials", "titleFontSize": 98,
                "titleX": 1182, "titleY": -169, "titleAlign": "center", "titleBaseline": "middle"}}
          }
        }
      ]
    }
  ]
}
